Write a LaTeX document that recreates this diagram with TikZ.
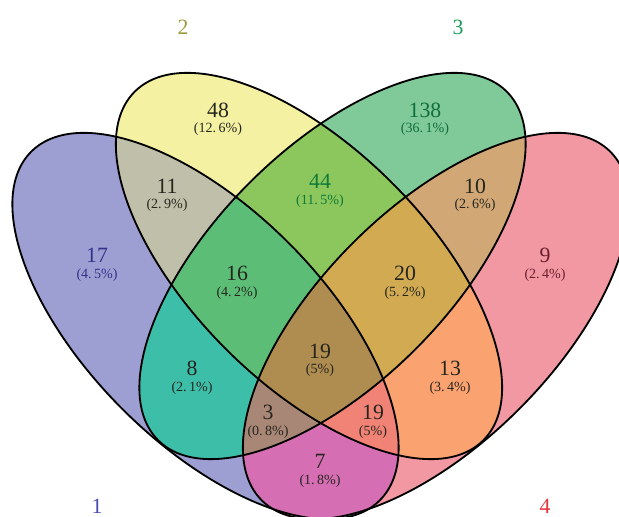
\documentclass[tikz,border=0pt]{standalone}
\usepackage{fontspec}
\setmainfont{Liberation Serif}
\definecolor{cA}{HTML}{9D9ED1}
\definecolor{cB}{HTML}{F4F1A3}
\definecolor{cC}{HTML}{80C998}
\definecolor{cD}{HTML}{F198A3}
\definecolor{cAB}{HTML}{C0C0AA}
\definecolor{cBC}{HTML}{8BC75C}
\definecolor{cCD}{HTML}{D1A776}
\definecolor{cAC}{HTML}{3CBEA8}
\definecolor{cBD}{HTML}{FAA270}
\definecolor{cAD}{HTML}{D66EB4}
\definecolor{cABC}{HTML}{5CBE76}
\definecolor{cBCD}{HTML}{D2AA52}
\definecolor{cACD}{HTML}{A88776}
\definecolor{cABD}{HTML}{F18276}
\definecolor{cABCD}{HTML}{AF8C50}
\definecolor{tA}{HTML}{33338A}
\definecolor{tC}{HTML}{0F6E3C}
\definecolor{tD}{HTML}{6B1E2E}
\definecolor{tBC}{HTML}{107A38}
\definecolor{tdark}{HTML}{26261E}
\definecolor{lA}{HTML}{4A4AB0}
\definecolor{lB}{HTML}{9C9C3C}
\definecolor{lC}{HTML}{1F9B5A}
\definecolor{lD}{HTML}{E8323C}
\newcommand\PA{(205.5,191) ellipse [x radius=246.5,y radius=117.5]}
\newcommand\PB{(309,251) ellipse [x radius=246.5,y radius=117.5]}
\newcommand\PC{(332.5,251) ellipse [x radius=246.5,y radius=117.5]}
\newcommand\PD{(436,191) ellipse [x radius=246.5,y radius=117.5]}
\begin{document}
\begin{tikzpicture}[x=0.025cm,y=0.025cm,
  ea/.style={rotate around={-45:(205.5,191)}},
  eb/.style={rotate around={-45:(309,251)}},
  ec/.style={rotate around={45:(332.5,251)}},
  ed/.style={rotate around={45:(436,191)}},
  outline/.style={draw=black,line width=1.3pt},
  cnt/.style={font=\fontsize{15.5}{17}\selectfont,inner sep=0pt,text=tdark},
  pct/.style={font=\fontsize{10}{11}\selectfont,inner sep=0pt,text=tdark},
  lab/.style={font=\fontsize{15.5}{17}\selectfont,inner sep=0pt}]
\useasboundingbox (0,0) rectangle (619,517);
\clip (0,0) rectangle (619,517);
% single sets
\fill[ea,cA] \PA;
\fill[eb,cB] \PB;
\fill[ec,cC] \PC;
\fill[ed,cD] \PD;
% pairs
\begin{scope}\clip[ea] \PA; \fill[eb,cAB] \PB; \end{scope}
\begin{scope}\clip[ea] \PA; \fill[ec,cAC] \PC; \end{scope}
\begin{scope}\clip[ea] \PA; \fill[ed,cAD] \PD; \end{scope}
\begin{scope}\clip[eb] \PB; \fill[ec,cBC] \PC; \end{scope}
\begin{scope}\clip[eb] \PB; \fill[ed,cBD] \PD; \end{scope}
\begin{scope}\clip[ec] \PC; \fill[ed,cCD] \PD; \end{scope}
% triples
\begin{scope}\clip[ea] \PA; \clip[eb] \PB; \fill[ec,cABC] \PC; \end{scope}
\begin{scope}\clip[ea] \PA; \clip[eb] \PB; \fill[ed,cABD] \PD; \end{scope}
\begin{scope}\clip[ea] \PA; \clip[ec] \PC; \fill[ed,cACD] \PD; \end{scope}
\begin{scope}\clip[eb] \PB; \clip[ec] \PC; \fill[ed,cBCD] \PD; \end{scope}
% all four
\begin{scope}\clip[ea] \PA; \clip[eb] \PB; \clip[ec] \PC; \fill[ed,cABCD] \PD; \end{scope}
% outlines
\draw[ea,outline] \PA;
\draw[eb,outline] \PB;
\draw[ec,outline] \PC;
\draw[ed,outline] \PD;
% counts and percentages
\node[cnt,text=tA] (n17) at (97,262) {17};
\node[pct,text=tA] (p17) at (97,242) {(4.\,5\%)};
\node[cnt] (n48) at (218,407) {48};
\node[pct] (p48) at (218,388) {(12.\,6\%)};
\node[cnt,text=tC] (n138) at (425,407) {138};
\node[pct,text=tC] (p138) at (425,388) {(36.\,1\%)};
\node[cnt,text=tD] (n9) at (545,262) {9};
\node[pct,text=tD] (p9) at (545,242) {(2.\,4\%)};
\node[cnt] (n11) at (167,331) {11};
\node[pct] (p11) at (167,312) {(2.\,9\%)};
\node[cnt] (n10) at (475,331) {10};
\node[pct] (p10) at (475,312) {(2.\,6\%)};
\node[cnt,text=tBC] (n44) at (320,336) {44};
\node[pct,text=tBC] (p44) at (320,316) {(11.\,5\%)};
\node[cnt] (n16) at (237,244) {16};
\node[pct] (p16) at (237,224) {(4.\,2\%)};
\node[cnt] (n20) at (405,244) {20};
\node[pct] (p20) at (405,224) {(5.\,2\%)};
\node[cnt] (n8) at (192,149) {8};
\node[pct] (p8) at (192,129) {(2.\,1\%)};
\node[cnt] (n13) at (450,149) {13};
\node[pct] (p13) at (450,129) {(3.\,4\%)};
\node[cnt] (n19c) at (320,166) {19};
\node[pct] (p19c) at (320,147) {(5\%)};
\node[cnt] (n3) at (268,105) {3};
\node[pct] (p3) at (268,85) {(0.\,8\%)};
\node[cnt] (n19r) at (373,105) {19};
\node[pct] (p19r) at (373,85) {(5\%)};
\node[cnt] (n7) at (320,56) {7};
\node[pct] (p7) at (320,36) {(1.\,8\%)};
% set labels
\node[lab,text=lA] (l1) at (97,11) {1};
\node[lab,text=lB] (l2) at (183,490) {2};
\node[lab,text=lC] (l3) at (458,490) {3};
\node[lab,text=lD] (l4) at (545,11) {4};
\end{tikzpicture}
\end{document}
